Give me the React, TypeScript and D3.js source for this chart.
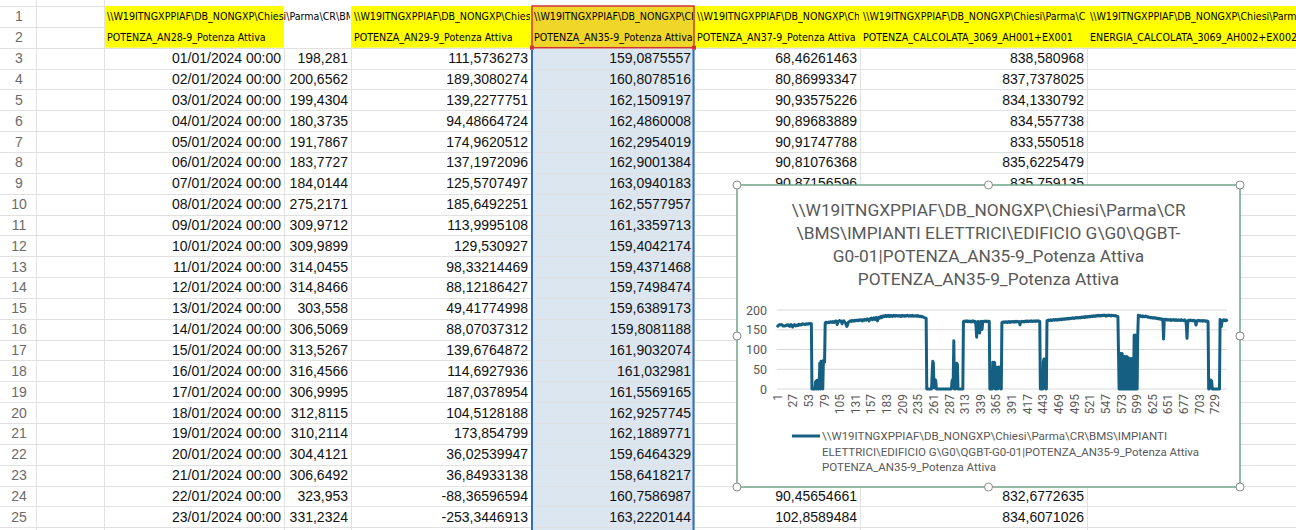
import React, { useEffect } from 'react';
import * as d3 from 'd3';

// ---- sheet data ----
const rowNumbers = d3.range(1, 26);
const dates = d3.range(1, 24).map(d => `${String(d).padStart(2, '0')}/01/2024 00:00`);
const colD = ['198,281', '200,6562', '199,4304', '180,3735', '191,7867', '183,7727', '184,0144', '275,2171', '309,9712', '309,9899', '314,0455', '314,8466', '303,558', '306,5069', '313,5267', '316,4566', '306,9995', '312,8115', '310,2114', '304,4121', '306,6492', '323,953', '331,2324'];
const colE = ['111,5736273', '189,3080274', '139,2277751', '94,48664724', '174,9620512', '137,1972096', '125,5707497', '185,6492251', '113,9995108', '129,530927', '98,33214469', '88,12186427', '49,41774998', '88,07037312', '139,6764872', '114,6927936', '187,0378954', '104,5128188', '173,854799', '36,02539947', '36,84933138', '-88,36596594', '-253,3446913'];
const colF = ['159,0875557', '160,8078516', '162,1509197', '162,4860008', '162,2954019', '162,9001384', '163,0940183', '162,5577957', '161,3359713', '159,4042174', '159,4371468', '159,7498474', '159,6389173', '159,8081188', '161,9032074', '161,032981', '161,5569165', '162,9257745', '162,1889771', '159,6464329', '158,6418217', '160,7586987', '163,2220144'];
// rows 10-23 of G/H sit under the chart
const colG = ['68,46261463', '80,86993347', '90,93575226', '90,89683889', '90,91747788', '90,81076368', '90,87156596', '', '', '', '', '', '', '', '', '', '', '', '', '', '', '90,45654661', '102,8589484'];
const colH = ['838,580968', '837,7378025', '834,1330792', '834,557738', '833,550518', '835,6225479', '835,759135', '', '', '', '', '', '', '', '', '', '', '', '', '', '', '832,6772635', '834,6071026'];

const pathPrefix = String.raw`\\W19ITNGXPPIAF\DB_NONGXP\Chiesi\Parma\CR\BMS\IMPIANTI ELETTRICI\EDIFICIO G\G0\QGBT-G0-01|`;
const headerNames = ['POTENZA_AN28-9_Potenza Attiva', 'POTENZA_AN29-9_Potenza Attiva', 'POTENZA_AN35-9_Potenza Attiva', 'POTENZA_AN37-9_Potenza Attiva', 'POTENZA_CALCOLATA_3069_AH001+EX001', 'ENERGIA_CALCOLATA_3069_AH002+EX002'];

// ---- chart data: POTENZA_AN35-9 (one value per category 1..748) ----
const runA = [159.1, 160.8, 162.2, 162.5, 162.3, 162.9, 163.1, 162.6, 161.3, 159.4,
  159.4, 159.7, 159.6, 159.8, 161.9, 161.0, 161.6, 162.9, 162.2, 159.6,
  158.6, 160.8, 163.2, 161.5, 160.2, 156.8, 160.9, 162.4, 163.0, 161.7,
  159.8, 160.5, 162.1, 161.4, 160.7, 163.5, 164.2, 163.1, 162.6, 161.8,
  162.9, 164.8, 165.3, 164.1, 163.6, 162.9, 163.4, 164.6, 165.2, 164.3,
  163.7, 165.1, 166.0, 165.4, 164.8, 165.6, 165.3];
const runB = [0, 0, 0, 0, 0, 0, 18, 20, 0, 22, 0, 0, 0, 65, 0, 70, 4, 70, 0, 72, 70, 68];
const runC = [167.2, 168.5, 169.1, 168.0, 167.6, 168.8, 169.4, 168.2, 169.9, 170.3,
  169.1, 168.4, 170.2, 171.0, 169.5, 168.7, 170.6, 171.8, 172.4, 170.9,
  163.5, 169.8, 171.2, 172.6, 173.4, 171.9, 170.5, 172.0, 165.2, 169.7,
  171.5, 172.8, 170.3, 168.9, 166.4, 162.1, 158.3, 161.9, 166.7, 169.5,
  170.8, 171.6, 172.3, 171.1, 172.9, 173.5, 172.2, 173.0, 171.8, 173.6,
  174.1, 172.7, 173.3, 174.5, 173.8, 172.9, 174.2, 175.0, 173.7, 174.4,
  175.3, 174.1, 172.6, 174.8, 175.5, 174.0, 176.2, 175.1, 174.3, 176.0,
  177.4, 176.1, 175.2, 172.4, 176.8, 178.1, 177.0, 179.3, 176.5, 175.4,
  178.6, 180.2, 177.9, 176.3, 179.5, 181.4, 178.8, 172.6, 177.7, 180.9,
  182.3, 179.6, 181.7, 183.8, 180.4, 182.9, 184.6, 183.1, 185.2, 183.7,
  184.9, 186.3, 183.5, 185.0, 184.2, 186.8, 185.4, 183.9, 185.7, 184.5,
  186.1, 185.3, 184.0, 185.8, 186.5, 184.7, 185.9, 184.3, 185.6, 186.2,
  185.1, 184.4, 185.7, 186.0, 184.8, 185.5, 183.6, 185.2, 186.4, 185.0,
  184.6, 185.8, 184.1, 185.3, 186.1, 184.9, 185.4, 186.7, 185.0, 184.3,
  185.6, 184.8, 185.9, 184.5, 185.2, 186.3, 184.7, 185.5, 184.2, 185.1,
  184.9, 185.6, 184.4, 185.8, 184.1, 185.3, 184.6, 183.8, 184.5, 183.2,
  183.9, 182.7, 183.4, 182.1, 181.6, 180.9, 180.2, 179.6, 178.8];
const runD = [0, 0, 0, 0, 0, 0, 0, 0, 0, 40,
  70, 66, 3, 22, 24, 20, 0, 0, 0, 0,
  0, 0, 0, 0, 0, 0, 0, 0, 0, 0,
  0, 0, 0, 0, 0, 0, 0, 0, 0, 0,
  0, 0, 20, 24, 22, 122, 0, 0, 0, 30,
  65, 62, 0, 0, 0, 0, 0, 0, 0, 0,
  0];
const runE = [170.5, 171.8, 170.2, 172.1, 171.4, 170.9, 172.6, 171.1, 170.3, 171.7,
  172.0, 170.8, 171.5, 169.9, 171.2, 172.4, 170.6, 171.9, 170.1, 171.3,
  170.7, 158.4, 131.2, 168.6, 171.0, 170.4, 165.3, 141.5, 169.2, 171.6,
  170.3, 150.8, 168.9, 171.4, 170.8, 171.9, 170.5, 171.2, 170.6, 171.8,
  170.9, 171.5, 170.4, 171.1];
const runF = [0, 0, 0, 0, 0, 68, 5, 68, 66, 0, 0, 20, 55, 0, 55, 10, 56, 55, 0, 0];
const runG = [168.2, 169.5, 168.8, 170.1, 169.3, 168.6, 169.9, 170.4, 169.0, 168.3,
  169.7, 170.6, 169.2, 170.0, 168.9, 170.8, 169.4, 170.2, 171.0, 169.6,
  170.5, 169.1, 170.9, 171.3, 169.8, 170.3, 171.6, 170.0, 169.5, 170.7,
  162.4, 169.2, 170.8, 171.4, 170.2, 171.1, 170.5, 169.7, 171.3, 170.9,
  171.8, 170.4, 172.1, 171.2, 170.6, 171.7, 172.3, 171.0, 171.9, 172.5,
  171.4, 170.8, 172.0, 171.6, 172.4, 171.1, 172.2, 171.5, 172.7, 171.8,
  172.3, 171.6, 172.0, 171.4];
const runH = [0, 0, 0, 0, 0, 70, 76, 76, 74, 0, 0];
const runI = [172.4, 173.8, 172.9, 174.5, 173.2, 174.1, 175.0, 173.6, 174.7, 173.9,
  174.8, 175.6, 174.2, 175.3, 174.6, 176.1, 175.2, 174.4, 175.8, 176.5,
  175.1, 176.3, 175.7, 176.9, 175.4, 177.2, 176.0, 176.8, 177.5, 176.4,
  177.8, 176.9, 178.3, 177.1, 178.6, 177.4, 179.0, 178.2, 177.6, 179.3,
  178.5, 179.8, 178.9, 180.4, 179.2, 178.1, 180.0, 179.5, 180.8, 179.7,
  181.2, 180.3, 179.6, 181.0, 180.6, 181.7, 180.2, 181.4, 182.1, 180.9,
  181.8, 182.5, 181.3, 182.9, 181.6, 183.2, 182.4, 181.9, 183.5, 182.7,
  183.1, 184.0, 182.6, 183.8, 184.5, 183.3, 184.2, 185.1, 183.7, 184.6,
  185.3, 184.1, 185.8, 184.9, 185.5, 186.4, 184.8, 185.9, 186.6, 185.2,
  186.1, 185.4, 186.8, 185.7, 186.3, 187.2, 185.9, 186.5, 184.6, 186.0,
  186.9, 185.6, 186.2, 187.0, 185.8, 186.4, 185.1, 186.7, 185.5, 186.1,
  185.7, 186.3, 185.2, 185.9, 184.8, 185.4, 184.6, 183.9, 183.2];
const runJ = [90, 0, 91, 0, 89, 0, 90, 0,
  83, 0, 82, 0, 81, 0, 82, 0, 80,
  0, 77, 0, 76, 0, 77, 0, 76,
  0, 136, 0, 137, 0, 135, 0, 138];
const runK = [186.8, 185.2, 184.1, 185.6, 183.9, 184.7, 183.4, 184.9, 183.2, 184.3,
  182.8, 183.6, 184.5, 182.9, 183.7, 182.4, 181.6, 182.8, 181.3, 180.7,
  181.5, 180.2, 181.1, 179.8, 180.6, 179.4, 180.9, 179.6, 180.3, 179.1,
  178.7, 179.5, 178.2, 179.0, 177.6, 178.4, 177.9, 176.8, 177.5, 176.3,
  177.1, 168.2, 126.4, 171.5, 176.2, 175.4, 176.7, 175.1, 174.6, 175.8,
  174.9, 175.5, 174.3, 175.9, 174.7, 173.8, 175.2, 174.5, 175.6, 174.1,
  175.0, 173.6, 174.8, 175.3, 174.0, 173.4, 174.9, 175.1, 173.9, 174.6,
  173.5, 174.7, 175.2, 173.8, 174.3, 173.1, 174.5, 175.0, 173.7, 172.4,
  158.9, 128.3, 165.4, 173.6, 174.2, 173.0, 174.4, 173.5, 172.8, 174.1,
  173.3, 172.6, 174.0, 173.7, 172.9, 168.5, 161.8, 170.4, 173.2, 172.5,
  173.8, 172.7, 173.4, 172.1, 173.0, 172.6, 173.5, 171.9, 172.8, 173.1,
  172.3, 171.8, 172.6, 171.5, 172.2, 171.7, 170.9];
const runL = [0, 0, 22, 23, 22, 20, 0, 0, 0, 0, 0, 0, 0, 0, 0, 0, 0, 0, 0];
const runM = [176.2, 173.5, 158.4, 168.7, 174.1, 172.8, 175.3, 173.6, 174.4, 172.9, 175.0, 173.8];

const series = [...runA, ...runB, ...runC, ...runD, ...runE, ...runF, ...runG, ...runH, ...runI, ...runJ, ...runK, ...runL, ...runM];
const yTicks = [0, 50, 100, 150, 200];
const xTickStep = 26;

const titleLines = [
  String.raw`\\W19ITNGXPPIAF\DB_NONGXP\Chiesi\Parma\CR`,
  String.raw`\BMS\IMPIANTI ELETTRICI\EDIFICIO G\G0\QGBT-`,
  'G0-01|POTENZA_AN35-9_Potenza Attiva',
  'POTENZA_AN35-9_Potenza Attiva',
];
const legendLines = [
  String.raw`\\W19ITNGXPPIAF\DB_NONGXP\Chiesi\Parma\CR\BMS\IMPIANTI`,
  String.raw`ELETTRICI\EDIFICIO G\G0\QGBT-G0-01|POTENZA_AN35-9_Potenza Attiva`,
  'POTENZA_AN35-9_Potenza Attiva',
];

const W = 1296;
const H = 530;
const colEdges = [0, 36, 104, 284, 351, 531, 694, 860, 1087, 1340];
const rowY = d3.scaleLinear().domain([1, 26]).range([6, 6 + 25 * 20.85]);
const headFont = '"DejaVu Sans Condensed", "Liberation Sans", sans-serif';
const cellFont = '"Liberation Sans", Arial, sans-serif';
const chartFont = 'Roboto, "Liberation Sans", sans-serif';
const lineColor = '#156082';

const chartBox = { x: 737, y: 185, w: 503, h: 302 };

const App: React.FC = () => {
  useEffect(() => {
    document.body.style.margin = '0';
  }, []);

  const x = d3.scaleLinear().domain([1, series.length]).range([777.7, 1226.7]);
  const y = d3.scaleLinear().domain([0, 200]).range([389, 310]);
  const line = d3.line<number>().x((_, i) => x(i + 1)).y(d => y(d));
  const xTicks = d3.range(1, series.length + 1, xTickStep);

  // header cells: column index; text spills until the next filled cell
  const headerCols = [2, 4, 5, 6, 7, 8];
  const spillEnd = [4, 5, 6, 7, 8, 9];

  const rowsData = dates.map((d, i) => ({ r: i + 3, cells: [d, colD[i], colE[i], colF[i], colG[i], colH[i]] }));
  const dataCols = [2, 3, 4, 5, 6, 7];

  return (
    <svg width={W} height={H} style={{ position: 'fixed', left: 0, top: 0, background: '#fff' }}>
      <defs>
        {headerCols.map((c, k) => (
          <clipPath id={`hc${k}`} key={k}>
            <rect x={colEdges[c]} y={rowY(1)} width={colEdges[spillEnd[k]] - colEdges[c] - 1} height={rowY(2) - rowY(1)} />
          </clipPath>
        ))}
        {headerCols.map((c, k) => (
          <clipPath id={`hd${k}`} key={k}>
            <rect x={colEdges[c]} y={rowY(2)} width={colEdges[spillEnd[k]] - colEdges[c] - 1} height={rowY(3) - rowY(2)} />
          </clipPath>
        ))}
      </defs>

      {/* fills */}
      <rect x={colEdges[2]} y={rowY(1)} width={colEdges[3] - colEdges[2]} height={rowY(3) - rowY(1)} fill="#ffff00" />
      <rect x={colEdges[4]} y={rowY(1)} width={W - colEdges[4]} height={rowY(3) - rowY(1)} fill="#ffff00" />
      <rect x={colEdges[5]} y={rowY(1)} width={colEdges[6] - colEdges[5]} height={rowY(3) - rowY(1)} fill="#f1d62a" />
      <rect x={colEdges[5]} y={rowY(3)} width={colEdges[6] - colEdges[5]} height={H - rowY(3)} fill="#dce6f1" />

      {/* grid */}
      {d3.range(3, 27).map(r => {
        const yy = Math.round(rowY(r)) + 0.5;
        return <line key={r} x1={0} x2={W} y1={yy} y2={yy} stroke="#e1e1e1" strokeWidth={1} />;
      })}
      <line x1={0} x2={colEdges[2]} y1={Math.round(rowY(2)) + 0.5} y2={Math.round(rowY(2)) + 0.5} stroke="#e1e1e1" />
      <line x1={0} x2={colEdges[2]} y1={Math.round(rowY(1)) + 0.5} y2={Math.round(rowY(1)) + 0.5} stroke="#e1e1e1" />
      {colEdges.slice(1, -1).map((cx, i) => (
        <line key={i} x1={cx + 0.5} x2={cx + 0.5} y1={i >= 1 ? rowY(3) : 0} y2={H} stroke="#e1e1e1" />
      ))}
      <line x1={colEdges[2] + 0.5} x2={colEdges[2] + 0.5} y1={0} y2={H} stroke="#e1e1e1" />

      {/* row numbers */}
      {rowNumbers.map(r => (
        <text key={r} x={19} y={(rowY(r) + rowY(r + 1)) / 2 + 5} textAnchor="middle"
          fontFamily={cellFont} fontSize={14} fill="#6b6b6b">{r}</text>
      ))}

      {/* header rows */}
      {headerCols.map((c, k) => (
        <g key={k} fontFamily={headFont} fontSize={10.6} fill="#000">
          <text x={colEdges[c] + 3} y={(rowY(1) + rowY(2)) / 2 + 4} clipPath={`url(#hc${k})`}>{pathPrefix + headerNames[k]}</text>
          <text x={colEdges[c] + 3} y={(rowY(2) + rowY(3)) / 2 + 4} clipPath={`url(#hd${k})`}>{headerNames[k]}</text>
        </g>
      ))}

      {/* data cells */}
      {rowsData.map(row => (
        <g key={row.r} fontFamily={cellFont} fontSize={14} fill="#111" textAnchor="end">
          {row.cells.map((v, j) => (
            <text key={j} x={colEdges[dataCols[j] + 1] - 3} y={(rowY(row.r) + rowY(row.r + 1)) / 2 + 5}>{v}</text>
          ))}
        </g>
      ))}

      {/* selection borders */}
      <rect x={colEdges[5] + 1} y={rowY(1)} width={colEdges[6] - colEdges[5] - 1} height={rowY(3) - rowY(1)} fill="none" stroke="#d13438" strokeWidth={1.5} />
      <rect x={colEdges[5] - 1} y={rowY(3) - 2} width={4} height={4} fill="#d13438" />
      <rect x={colEdges[6] - 2} y={rowY(3) - 2} width={4} height={4} fill="#d13438" />
      <line x1={colEdges[5] + 1} x2={colEdges[5] + 1} y1={rowY(3) + 2} y2={H} stroke="#2f6fc0" strokeWidth={2} />
      <line x1={colEdges[6] - 0.5} x2={colEdges[6] - 0.5} y1={rowY(3) + 2} y2={H} stroke="#2f6fc0" strokeWidth={2} />

      {/* chart */}
      <g>
        <rect x={chartBox.x} y={chartBox.y} width={chartBox.w} height={chartBox.h} fill="#fff" stroke="#6fa58a" strokeWidth={1.5} />
        <g fontFamily={chartFont} fill="#595959" textAnchor="middle" fontSize={17.3}>
          {titleLines.map((t, i) => (
            <text key={i} x={chartBox.x + chartBox.w / 2} y={216 + i * 23}>{t}</text>
          ))}
        </g>
        {yTicks.map(t => (
          <g key={t}>
            <line x1={777} x2={1227} y1={y(t)} y2={y(t)} stroke="#d9d9d9" strokeWidth={1} />
            <text x={767} y={y(t) + 4.5} textAnchor="end" fontFamily={chartFont} fontSize={12.5} fill="#595959">{t}</text>
          </g>
        ))}
        {xTicks.map(t => (
          <text key={t} transform={`translate(${x(t) + 4},394) rotate(-90)`} textAnchor="end"
            fontFamily={chartFont} fontSize={12} fill="#595959">{t}</text>
        ))}
        <path d={line(series) ?? ''} fill="none" stroke={lineColor} strokeWidth={3} strokeLinejoin="round" strokeLinecap="round" />
        <line x1={792} x2={820} y1={436} y2={436} stroke={lineColor} strokeWidth={3} />
        <g fontFamily={chartFont} fontSize={11.5} fill="#595959">
          {legendLines.map((t, i) => (
            <text key={i} x={822} y={440 + i * 15.5}>{t}</text>
          ))}
        </g>
        {[
          [chartBox.x, chartBox.y], [chartBox.x + chartBox.w / 2, chartBox.y], [chartBox.x + chartBox.w, chartBox.y],
          [chartBox.x, chartBox.y + chartBox.h / 2], [chartBox.x + chartBox.w, chartBox.y + chartBox.h / 2],
          [chartBox.x, chartBox.y + chartBox.h], [chartBox.x + chartBox.w / 2, chartBox.y + chartBox.h], [chartBox.x + chartBox.w, chartBox.y + chartBox.h],
        ].map(([hx, hy], i) => (
          <circle key={i} cx={hx} cy={hy} r={4} fill="#fff" stroke="#8a8a8a" strokeWidth={1} />
        ))}
      </g>
    </svg>
  );
};

export default App;
